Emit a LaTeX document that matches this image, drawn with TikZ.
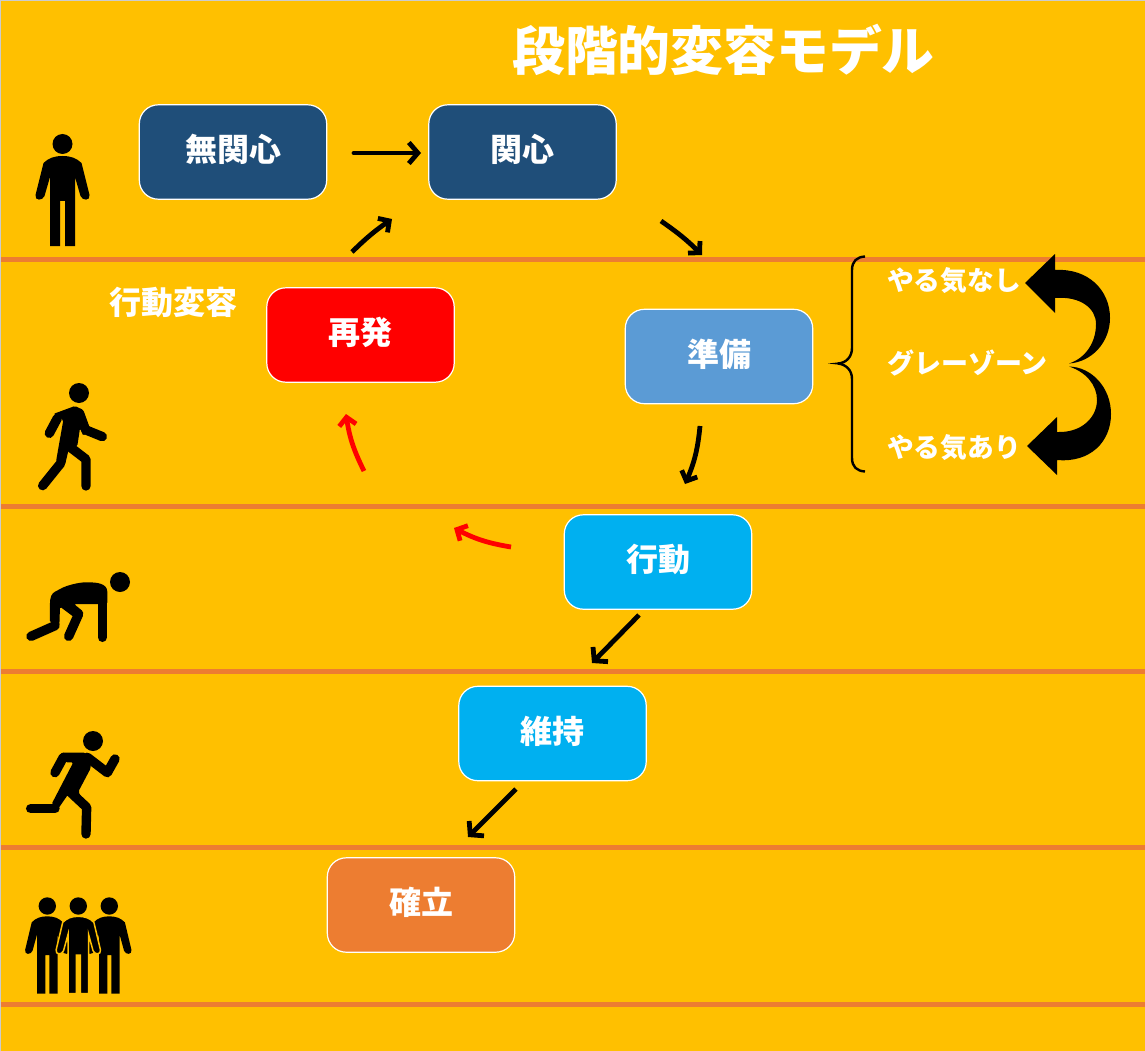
\documentclass[tikz,border=0pt]{standalone}
\usepackage{fontspec}
\setmainfont{Noto Sans CJK JP}
\usetikzlibrary{arrows.meta}
\definecolor{bgc}{HTML}{FFC000}
\definecolor{linec}{HTML}{ED7D31}
\definecolor{navy}{HTML}{1F4E79}
\definecolor{skyb}{HTML}{5B9BD5}
\definecolor{cyanb}{HTML}{00B0F0}
\tikzset{
  stage/.style={draw=white,line width=1.2pt,rounded corners=19pt,minimum width=187.4pt,minimum height=94.4pt,inner sep=0pt,text=white,font=\fontsize{32}{32}\selectfont\bfseries},
  sep/.style={draw=linec,line width=4.5pt},
  flow/.style={draw=black,line width=4.8pt,-{Straight Barb[length=9pt,width=21pt,line width=4.8pt]}},
  curved/.style={draw=black,line width=4.8pt,-{Straight Barb[length=8pt,width=17pt,line width=4.8pt]}},
  back/.style={curved,draw=red},
  note/.style={text=white,inner sep=0pt,font=\fontsize{26.7}{27}\selectfont\bfseries},
  icon/.style={fill=black,rounded corners=1.5pt},
  limb/.style={draw=black,line width=9.4pt,line cap=round,line join=round},
  bodystyle/.style={fill=black},
  personbody/.pic={
    \path[bodystyle] (-19,19) .. controls (-14,14) and (-8,12) .. (0,12) .. controls (8,12) and (14,14) .. (19,19)
      -- (27,51) .. controls (28,57) and (20,57) .. (18,52) -- (12.5,33) -- (12.5,102) -- (2.5,102) -- (2.5,57) -- (-2.5,57) -- (-2.5,102) -- (-12.5,102) -- (-12.5,33) -- (-18,52) .. controls (-20,57) and (-28,57) .. (-27,51) -- cycle;
  }
}
\begin{document}
\begin{tikzpicture}[x=1pt,y=-1pt]
\useasboundingbox (0,0) rectangle (1145,1051);
\fill[bgc] (0,0) rectangle (1145,1051);
\draw[gray!40,line width=1pt] (0.5,0.5) -- (1145,0.5) (0.5,0.5) -- (0.5,1051);
\foreach \yy in {259.5,506.5,671.5,847.5,1004.5} \draw[sep] (1,\yy) -- (1145,\yy);

\node[text=white,inner sep=0pt,font=\fontsize{52.8}{53}\selectfont\bfseries] (title) at (723.5,50) {段階的変容モデル};
\node[stage,fill=navy] (mukanshin) at (233,152) {\raisebox{7.5pt}{無関心}};
\node[stage,fill=navy] (kanshin) at (522.5,152) {\raisebox{7.5pt}{関心}};
\node[stage,fill=red] (saihatsu) at (360.5,335) {\raisebox{7.5pt}{再発}};
\node[stage,fill=skyb] (junbi) at (719,356.5) {\raisebox{7.5pt}{準備}};
\node[stage,fill=cyanb] (kodo) at (658,562) {\raisebox{7.5pt}{行動}};
\node[stage,fill=cyanb] (iji) at (552.5,733.5) {\raisebox{7.5pt}{維持}};
\node[stage,fill=linec] (kakuritsu) at (421,905) {\raisebox{7.5pt}{確立}};

\node[text=white,inner sep=0pt,font=\fontsize{32}{32}\selectfont\bfseries] (hk) at (173,302) {行動変容};
\node[note,anchor=west] (nashi) at (887,281) {やる気なし};
\node[note,anchor=west,font=\fontsize{27}{27}\selectfont\bfseries] (gray) at (887,362.5) {グレーゾーン};
\node[note,anchor=west] (ari) at (887,448) {やる気あり};

% flow arrows
\coordinate (a1s) at (354,153); \coordinate (a1e) at (421,153);
\coordinate (a2s) at (352,252); \coordinate (a2e) at (392,219);
\coordinate (a3s) at (661,221); \coordinate (a3e) at (702,255);
\coordinate (a4s) at (700,426); \coordinate (a4e) at (685,484);
\coordinate (a5s) at (639,615); \coordinate (a5e) at (592,663);
\coordinate (a6s) at (516,789); \coordinate (a6e) at (468,837);
\coordinate (r1s) at (364,471); \coordinate (r1e) at (346,414);
\coordinate (r2s) at (511,547); \coordinate (r2e) at (454,528);
\draw[flow,line cap=round] (a1s) -- (a1e);
\draw[curved] (a2s) to[bend left=5] (a2e);
\draw[curved] (a3s) to[bend left=5] (a3e);
\draw[curved] (a4s) to[bend left=9] (a4e);
\draw[flow] (a5s) -- (a5e);
\draw[flow] (a6s) -- (a6e);
\draw[back] (r1s) to[bend left=9] (r1e);
\draw[back] (r2s) to[bend left=9] (r2e);

% brace
\draw[black,line width=2.4pt] (865,256.5) .. controls (857,257) and (852,261) .. (852,270) -- (852,348) .. controls (852,357) and (846,363) .. (838,363.5);
\draw[black,line width=2.4pt] (865,471.5) .. controls (857,471) and (852,467) .. (852,458) -- (852,379) .. controls (852,370) and (846,364.5) .. (838,363.5);
\fill[black] (828,363.5) -- (842,362) -- (842,365) -- cycle;

% curved block arrows
\fill[black] (1025,283) -- (1055,254) -- (1055,270) .. controls (1088,268) and (1110,290) .. (1110,318) .. controls (1110,342) and (1092,362) .. (1069,363.5)
  .. controls (1086,358) and (1096,342) .. (1096,324) .. controls (1096,308) and (1080,296) .. (1055,298) -- (1055,313) -- cycle;
\fill[black] (1027,446) -- (1057,417) -- (1057,432) .. controls (1082,433) and (1097,417) .. (1097,400) .. controls (1097,385) and (1086,372) .. (1069,366.5)
  .. controls (1092,367) and (1111,388) .. (1111,414) .. controls (1111,442) and (1090,463) .. (1057,460) -- (1057,475) -- cycle;

% standing person
\fill (62.5,144) circle (10);
\pic at (62.5,144) {personbody};

% walker
\fill (79,393) circle (10);
\begin{scope}[shift={(0,120)},x=0.3333pt,y=-0.3333pt]
\path[icon] (160,882) -- (225,858) -- (250,870) -- (270,925) -- (250,948) -- (240,925) -- (232,978) -- (205,993) -- (195,1035) -- (168,1025) -- (190,900) -- cycle;
\draw[limb] (172,895) -- (148,940);
\draw[limb] (258,930) -- (307,950);
\draw[limb] (182,1030) -- (128,1097);
\draw[limb] (215,985) -- (258,1018) -- (258,1098);
\end{scope}

% crouching
\fill (120,582) circle (10);
\begin{scope}[shift={(0,560)},x=0.3333pt,y=-0.3333pt]
\path[icon] (150,125) .. controls (152,100) and (165,95) .. (175,90) .. controls (200,75) and (240,67) .. (260,67) .. controls (290,67) and (322,70) .. (322,100) -- (322,132) -- (222,132) -- (250,155) -- (220,170) -- (180,140) -- (178,200) -- (150,187) -- cycle;
\draw[limb] (307,110) -- (307,232);
\draw[limb] (236,162) -- (206,229);
\draw[limb] (165,197) -- (93,229);
\end{scope}

% runner
\fill (93,741) circle (10);
\begin{scope}[shift={(0,560)},x=0.3333pt,y=-0.3333pt]
\path[icon] (185,578) -- (255,578) -- (272,590) -- (272,625) -- (235,695) -- (245,715) -- (203,705) -- (172,750) -- (155,732) -- (220,607) -- (197,607) -- (185,590) -- cycle;
\draw[limb] (190,592) -- (165,638);
\draw[limb] (262,592) -- (322,638) -- (345,597);
\draw[limb] (165,746) -- (92,746);
\draw[limb] (215,700) -- (260,742) -- (258,822);
\end{scope}

% group
\fill (47.3,906) circle (8.7);
\fill (78.3,906) circle (8.7);
\fill (109.3,906) circle (8.7);
\pic[xscale=0.82,yscale=0.86] at (47.3,906) {personbody};
\pic[xscale=0.82,yscale=0.86] at (109.3,906) {personbody};
\pic[xscale=0.82,yscale=0.86,bodystyle/.style={fill=black,draw=bgc,line width=1.5pt}] at (78.3,906) {personbody};
\end{tikzpicture}
\end{document}
